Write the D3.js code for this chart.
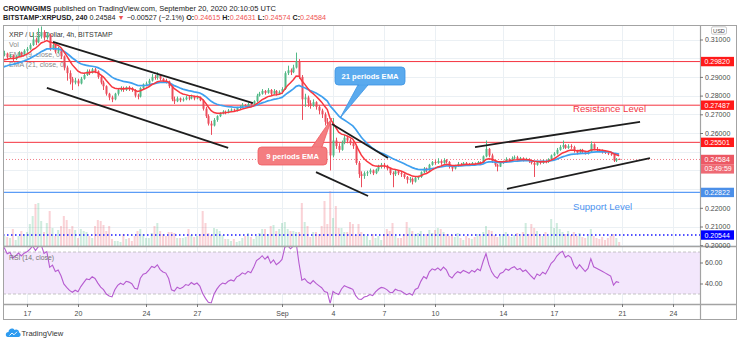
<!DOCTYPE html>
<html><head><meta charset="utf-8">
<script src="https://cdn.jsdelivr.net/npm/d3@7"></script>
<style>
body{margin:0;background:#fff}
svg{display:block}
text{font-family:"Liberation Sans",Arial,sans-serif}
</style>
</head><body>
<svg id="c" width="740" height="341"></svg>
<script>
// ---------------- DATA ----------------
const startTime = Date.UTC(2020, 7, 13, 0); // first 4h candle (Aug 13 & 14 are warm-up, off-screen)
const candleHours = 4;
const firstOpen = 0.2870;
const closes = [
0.2880,0.2900,0.2870,0.2890,0.2920,0.2910, // Aug 13
0.2930,0.2950,0.2940,0.2970,0.2990,0.3000, // Aug 14
0.2980,0.3010,0.3000,0.3020,0.3025,0.3005, // Aug 15
0.3015,0.2995,0.3010,0.3030,0.3020,0.3040, // Aug 16
0.3050,0.3070,0.3100,0.3085,0.3120,0.3140, // Aug 17
0.3110,0.3125,0.3055,0.3070,0.3035,0.3045, // Aug 18
0.3010,0.2950,0.2920,0.2890,0.2870,0.2880, // Aug 19
0.2865,0.2890,0.2910,0.2930,0.2925,0.2940, // Aug 20
0.2930,0.2900,0.2870,0.2850,0.2810,0.2790, // Aug 21
0.2780,0.2810,0.2830,0.2840,0.2830,0.2845, // Aug 22
0.2840,0.2830,0.2800,0.2795,0.2840,0.2860, // Aug 23
0.2865,0.2880,0.2900,0.2895,0.2910,0.2890, // Aug 24
0.2880,0.2875,0.2850,0.2780,0.2770,0.2785, // Aug 25
0.2775,0.2780,0.2790,0.2785,0.2795,0.2785, // Aug 26
0.2790,0.2775,0.2730,0.2690,0.2650,0.2640, // Aug 27
0.2670,0.2690,0.2705,0.2715,0.2710,0.2720, // Aug 28
0.2725,0.2720,0.2735,0.2740,0.2750,0.2745, // Aug 29
0.2755,0.2750,0.2770,0.2800,0.2810,0.2825, // Aug 30
0.2815,0.2830,0.2810,0.2825,0.2810,0.2820, // Aug 31
0.2835,0.2920,0.2935,0.2925,0.2950,0.2985, // Sep 1
0.2900,0.2780,0.2790,0.2760,0.2745,0.2765, // Sep 2
0.2740,0.2720,0.2700,0.2660,0.2650,0.2480, // Sep 3
0.2560,0.2530,0.2510,0.2550,0.2575,0.2560, // Sep 4
0.2545,0.2530,0.2440,0.2380,0.2370,0.2385, // Sep 5
0.2390,0.2400,0.2385,0.2405,0.2420,0.2430, // Sep 6
0.2425,0.2410,0.2385,0.2380,0.2395,0.2385, // Sep 7
0.2380,0.2365,0.2350,0.2355,0.2340,0.2360, // Sep 8
0.2365,0.2390,0.2410,0.2400,0.2430,0.2445, // Sep 9
0.2440,0.2450,0.2440,0.2455,0.2445,0.2420, // Sep 10
0.2410,0.2425,0.2435,0.2430,0.2440,0.2435, // Sep 11
0.2430,0.2440,0.2435,0.2445,0.2440,0.2475, // Sep 12
0.2515,0.2480,0.2450,0.2430,0.2420,0.2440, // Sep 13
0.2445,0.2460,0.2455,0.2465,0.2470,0.2460, // Sep 14
0.2465,0.2455,0.2460,0.2450,0.2440,0.2430, // Sep 15
0.2445,0.2440,0.2450,0.2445,0.2460,0.2480, // Sep 16
0.2490,0.2510,0.2525,0.2535,0.2520,0.2530, // Sep 17
0.2525,0.2505,0.2495,0.2510,0.2500,0.2490, // Sep 18
0.2500,0.2540,0.2515,0.2510,0.2505,0.2500, // Sep 19
0.2495,0.2490,0.2485,0.2452,0.24615,0.24584 // Sep 20
];
const highs = [
0.2895,0.2910,0.2905,0.2900,0.2930,0.2925,
0.2940,0.2960,0.2955,0.2975,0.2995,0.3010,
0.3005,0.3015,0.3015,0.3030,0.3040,0.3030,
0.3022,0.3020,0.3015,0.3038,0.3035,0.3048,
0.3060,0.3080,0.3135,0.3110,0.3160,0.3170,
0.3150,0.3140,0.3130,0.3085,0.3075,0.3060,
0.3050,0.3015,0.2960,0.2935,0.2900,0.2895,
0.2890,0.2900,0.2920,0.2940,0.2940,0.2948,
0.2948,0.2935,0.2905,0.2880,0.2855,0.2815,
0.2800,0.2815,0.2840,0.2850,0.2848,0.2850,
0.2852,0.2845,0.2835,0.2810,0.2845,0.2865,
0.2875,0.2890,0.2915,0.2910,0.2925,0.2915,
0.2895,0.2890,0.2880,0.2855,0.2795,0.2795,
0.2790,0.2790,0.2800,0.2800,0.2805,0.2800,
0.2800,0.2795,0.2780,0.2740,0.2700,0.2665,
0.2680,0.2695,0.2710,0.2722,0.2720,0.2728,
0.2732,0.2730,0.2740,0.2748,0.2760,0.2755,
0.2762,0.2762,0.2775,0.2810,0.2820,0.2835,
0.2830,0.2840,0.2835,0.2835,0.2830,0.2828,
0.2845,0.2930,0.2960,0.2945,0.2965,0.3030,
0.2995,0.2910,0.2810,0.2800,0.2775,0.2780,
0.2770,0.2750,0.2730,0.2710,0.2680,0.2660,
0.2680,0.2575,0.2545,0.2560,0.2590,0.2580,
0.2570,0.2555,0.2535,0.2450,0.2395,0.2395,
0.2398,0.2410,0.2405,0.2410,0.2430,0.2440,
0.2440,0.2430,0.2415,0.2395,0.2405,0.2400,
0.2392,0.2385,0.2370,0.2365,0.2362,0.2368,
0.2370,0.2395,0.2418,0.2415,0.2435,0.2450,
0.2455,0.2465,0.2455,0.2465,0.2460,0.2450,
0.2425,0.2430,0.2445,0.2440,0.2445,0.2445,
0.2440,0.2445,0.2442,0.2450,0.2448,0.2480,
0.2560,0.2520,0.2490,0.2455,0.2435,0.2448,
0.2452,0.2470,0.2465,0.2475,0.2480,0.2478,
0.2472,0.2470,0.2468,0.2465,0.2455,0.2445,
0.2450,0.2452,0.2458,0.2455,0.2465,0.2485,
0.2498,0.2520,0.2535,0.2560,0.2540,0.2540,
0.2540,0.2532,0.2510,0.2515,0.2515,0.2505,
0.2505,0.2555,0.2545,0.2525,0.2515,0.2512,
0.2508,0.2500,0.2495,0.2490,0.2466,0.24631
];
const lows = [
0.2860,0.2875,0.2865,0.2865,0.2885,0.2900,
0.2905,0.2925,0.2935,0.2935,0.2965,0.2985,
0.2975,0.2975,0.2995,0.2995,0.3010,0.2998,
0.2998,0.2985,0.2990,0.3008,0.3012,0.3015,
0.3030,0.3045,0.3065,0.3070,0.3080,0.3105,
0.3095,0.3100,0.3040,0.3045,0.3025,0.3025,
0.2995,0.2935,0.2880,0.2860,0.2830,0.2860,
0.2850,0.2860,0.2885,0.2905,0.2910,0.2918,
0.2920,0.2890,0.2860,0.2830,0.2800,0.2775,
0.2765,0.2775,0.2800,0.2822,0.2820,0.2825,
0.2825,0.2820,0.2790,0.2780,0.2790,0.2835,
0.2850,0.2860,0.2875,0.2885,0.2885,0.2880,
0.2870,0.2865,0.2840,0.2770,0.2755,0.2765,
0.2765,0.2768,0.2775,0.2775,0.2780,0.2775,
0.2780,0.2770,0.2720,0.2680,0.2640,0.2590,
0.2635,0.2660,0.2685,0.2700,0.2700,0.2705,
0.2712,0.2712,0.2715,0.2728,0.2735,0.2738,
0.2740,0.2742,0.2745,0.2765,0.2795,0.2805,
0.2805,0.2810,0.2800,0.2805,0.2800,0.2805,
0.2810,0.2830,0.2910,0.2910,0.2920,0.2945,
0.2890,0.2670,0.2740,0.2740,0.2730,0.2740,
0.2725,0.2700,0.2680,0.2640,0.2630,0.2400,
0.2470,0.2515,0.2495,0.2505,0.2540,0.2545,
0.2535,0.2515,0.2430,0.2360,0.2310,0.2355,
0.2370,0.2380,0.2375,0.2380,0.2395,0.2410,
0.2410,0.2400,0.2375,0.2310,0.2370,0.2375,
0.2365,0.2355,0.2330,0.2335,0.2325,0.2335,
0.2350,0.2360,0.2385,0.2390,0.2395,0.2425,
0.2430,0.2435,0.2430,0.2435,0.2438,0.2410,
0.2395,0.2405,0.2420,0.2425,0.2428,0.2428,
0.2425,0.2428,0.2430,0.2432,0.2435,0.2438,
0.2470,0.2470,0.2440,0.2420,0.2395,0.2418,
0.2435,0.2440,0.2445,0.2450,0.2458,0.2455,
0.2455,0.2448,0.2450,0.2440,0.2432,0.2365,
0.2425,0.2432,0.2435,0.2438,0.2440,0.2455,
0.2475,0.2485,0.2505,0.2515,0.2515,0.2515,
0.2515,0.2495,0.2485,0.2490,0.2492,0.2485,
0.2485,0.2495,0.2508,0.2500,0.2498,0.2490,
0.2488,0.2482,0.2478,0.2445,0.2445,0.24574
];
// volume, millions XRP
const volumes = [
12,10,9,11,14,10, 12,9,8,13,15,11, 9,10,8,12,10,9,
8,17,6,10,15,12, 14,22,30,42,43,25, 14,23,35,18,10,16,
20,30,26,17,20,16, 8,17,15,14,10,8, 20,26,25,21,15,20,
7,5,5,4,12,7, 8,5,10,15,17,12, 8,8,13,20,23,15,
12,10,14,14,13,8, 8,8,9,17,11,9, 10,12,35,23,13,11,
18,17,15,11,7,7, 5,7,4,5,8,10, 13,9,7,10,13,17,
17,12,20,21,15,17, 23,24,17,15,15,14, 14,43,24,20,9,14,
14,12,20,45,22,55, 28,40,18,18,14,14, 24,22,11,22,14,12,
10,6,12,8,10,6, 12,17,15,23,10,8, 8,12,24,18,15,12,
13,15,10,12,16,13, 16,18,17,14,12,10, 11,9,13,8,6,10,
8,7,9,12,10,14, 20,16,15,11,9,10, 12,14,10,9,11,13,
10,14,23,12,22,18, 15,12,10,14,10,27, 18,23,17,14,12,15,
11,14,10,13,9,8, 10,17,10,8,7,9, 6,8,10,12,8,4
];
const timeTickDates = ["2020-08-17","2020-08-20","2020-08-24","2020-08-27","2020-09-01","2020-09-04","2020-09-07","2020-09-10","2020-09-14","2020-09-17","2020-09-21","2020-09-24"];
const timeTickLabels = ["17","20","24","27","Sep","4","7","10","14","17","21","24"];
const priceTicks = [0.20,0.21,0.22,0.23,0.24,0.25,0.26,0.27,0.28,0.29,0.30,0.31];
const rsiTicks = [40,60];
const resistancePrices = [0.29820, 0.27487, 0.25501];
const supportPrice = 0.22822;
const lowSupportPrice = 0.20544;
const lastPrice = 0.24584;
const countdown = "03:49:59";
// trend lines [start date, start price, end date, end price]
const trendLines = [
  ["2020-08-18T12:40Z",0.3087,"2020-08-30T07:00Z",0.2760],
  ["2020-08-18T04:00Z",0.2841,"2020-08-28T20:00Z",0.2520],
  ["2020-09-03T22:30Z",0.2648,"2020-09-07T05:40Z",0.2466],
  ["2020-09-03T00:00Z",0.2391,"2020-09-06T01:30Z",0.2263],
  ["2020-09-12T08:30Z",0.2525,"2020-09-22T01:30Z",0.2659],
  ["2020-09-14T05:40Z",0.2301,"2020-09-22T15:30Z",0.2466]
];
// callout tips [date, price]
const ema21Tip = ["2020-09-04T10:00Z",0.2680];
const ema9Tip  = ["2020-09-03T22:30Z",0.2680];

// ---------------- DERIVED ----------------
const H4 = candleHours*3600e3;
const bars = closes.map((c,i)=>({t:new Date(startTime+i*H4), o:i?closes[i-1]:firstOpen, h:highs[i], l:lows[i], c, v:volumes[i]}));
function ema(arr,n){const k=2/(n+1);let e=arr[0];return arr.map((v,i)=>i===0?(e=v):(e=v*k+e*(1-k)));}
function rsi(arr,n){let ag=0,al=0;const out=arr.map(()=>null);
  for(let i=1;i<arr.length;i++){const d=arr[i]-arr[i-1],g=Math.max(d,0),l=Math.max(-d,0);
    if(i<=n){ag+=g/n;al+=l/n;if(i===n)out[i]=100-100/(1+ag/al);}
    else{ag=(ag*(n-1)+g)/n;al=(al*(n-1)+l)/n;out[i]=100-100/(1+ag/al);}}
  return out;}
const ema9=ema(closes,9), ema21=ema(closes,21), rsi14=rsi(closes,14);

// ---------------- LAYOUT ----------------
const L=3,R=700,T=25,MB=246,RB=304,AB=319,RE=737;
const svg=d3.select("#c");
const x=d3.scaleUtc().domain([new Date(Date.UTC(2020,7,17)),new Date(Date.UTC(2020,8,21))]).range([27,622]);
const y=d3.scaleLinear().domain([0.26,0.31]).range([133,39.5]);
const yR=d3.scaleLinear().domain([30,70]).range([294,252]);
const yV=d3.scaleLinear().domain([0,221]).range([MB,T]);
const UP="#53b987",DN="#eb4d5c";

const defs=svg.append("defs");
defs.append("clipPath").attr("id","cm").append("rect").attr("x",L+0.5).attr("y",T+0.5).attr("width",R-L-0.5).attr("height",MB-T-0.5);
defs.append("clipPath").attr("id","cr").append("rect").attr("x",L+0.5).attr("y",MB+0.5).attr("width",R-L-0.5).attr("height",RB-MB-1);

// header
const h1=svg.append("text").attr("x",3).attr("y",10.5).attr("font-size",7.5).attr("fill","#222");
h1.append("tspan").attr("font-weight","bold").text("CROWNGIMS");
h1.append("tspan").text(" published on TradingView.com, September 20, 2020 20:10:05 UTC");
const h2=svg.append("text").attr("x",3).attr("y",20).attr("font-size",7.2).attr("fill","#222");
const red="#ef5350";
[["BITSTAMP:XRPUSD, 240","#222","bold"],[" 0.24584 ","#222",null],["▼",red,null],[" −0.00527 (−2.1%) ","#222",null],
 ["O:","#222","bold"],["0.24615",red,null],[" H:","#222","bold"],["0.24631",red,null],[" L:","#222","bold"],["0.24574",red,null],[" C:","#222","bold"],["0.24584",red,null]]
 .forEach(([s,c,w])=>{const t=h2.append("tspan").attr("fill",c).text(s);if(w)t.attr("font-weight",w);});

// grid
const tickDates=timeTickDates.map(d=>new Date(d+"T00:00Z"));
const grid=svg.append("g").attr("stroke","#ebf0f4").attr("stroke-width",1);
priceTicks.forEach(p=>grid.append("line").attr("x1",L).attr("x2",R).attr("y1",Math.round(y(p))+0.5).attr("y2",Math.round(y(p))+0.5));
rsiTicks.forEach(p=>grid.append("line").attr("x1",L).attr("x2",R).attr("y1",Math.round(yR(p))+0.5).attr("y2",Math.round(yR(p))+0.5));
tickDates.forEach(d=>{const xx=Math.round(x(d))+0.5;if(xx<R){grid.append("line").attr("x1",xx).attr("x2",xx).attr("y1",T).attr("y2",RB);}});

// legend
const lg=svg.append("g").attr("font-size",7);
lg.append("text").attr("x",9).attr("y",37).attr("fill","#333").text("XRP / U.S. Dollar, 4h, BITSTAMP");
lg.append("text").attr("x",9).attr("y",47).attr("fill","#888").text("Vol");
lg.append("text").attr("x",9).attr("y",57).attr("fill","#888").text("EMA (9, close, 0)");
lg.append("text").attr("x",9).attr("y",67).attr("fill","#888").text("EMA (21, close, 0)");

const gm=svg.append("g").attr("clip-path","url(#cm)");
// volume
gm.append("g").selectAll("rect").data(bars).join("rect")
 .attr("x",d=>x(d.t)-1).attr("width",2).attr("y",d=>yV(d.v)).attr("height",d=>MB-yV(d.v))
 .attr("fill",d=>d.c>=d.o?"rgba(83,185,135,0.28)":"rgba(235,77,92,0.25)");
// level lines
resistancePrices.forEach(p=>gm.append("line").attr("x1",L).attr("x2",R).attr("y1",y(p)).attr("y2",y(p)).attr("stroke","#f5333f").attr("stroke-width",1));
gm.append("line").attr("x1",L).attr("x2",R).attr("y1",y(supportPrice)).attr("y2",y(supportPrice)).attr("stroke","#5b9cf6").attr("stroke-width",1.2);
gm.append("line").attr("x1",L).attr("x2",R).attr("y1",y(lowSupportPrice)).attr("y2",y(lowSupportPrice)).attr("stroke","#1a1aff").attr("stroke-width",1.5).attr("stroke-dasharray","1.5,2.5");
gm.append("line").attr("x1",L).attr("x2",R).attr("y1",y(lastPrice)).attr("y2",y(lastPrice)).attr("stroke","#eb4d5c").attr("stroke-width",1).attr("stroke-dasharray","1,2").attr("opacity",0.7);
// candles
const cg=gm.append("g");
cg.selectAll("rect.w").data(bars).join("rect").attr("class","w")
 .attr("x",d=>Math.round(x(d.t))).attr("width",1).attr("y",d=>y(d.h)).attr("height",d=>y(d.l)-y(d.h))
 .attr("fill",d=>d.c>=d.o?UP:DN);
cg.selectAll("rect.b").data(bars).join("rect").attr("class","b")
 .attr("x",d=>Math.round(x(d.t))-0.5).attr("width",2).attr("y",d=>y(Math.max(d.o,d.c)))
 .attr("height",d=>Math.max(1,Math.abs(y(d.o)-y(d.c))))
 .attr("fill",d=>d.c>=d.o?UP:DN);
// EMAs
const ln=(arr)=>d3.line().x((d,i)=>x(bars[i].t)).y(d=>y(d))(arr);
gm.append("path").attr("d",ln(ema21)).attr("fill","none").attr("stroke","#3fa0ef").attr("stroke-width",1.7);
gm.append("path").attr("d",ln(ema9)).attr("fill","none").attr("stroke","#f8373f").attr("stroke-width",1.5);
// trend lines
trendLines.forEach(([d1,p1,d2,p2])=>gm.append("line")
 .attr("x1",x(new Date(d1))).attr("y1",y(p1)).attr("x2",x(new Date(d2))).attr("y2",y(p2))
 .attr("stroke","#1e1e1e").attr("stroke-width",1.8));

// callouts
function callout(tip,bx,by,bw,bh,b1,b2,label,fill,stroke){
  const tx=x(new Date(tip[0])),ty=y(tip[1]);
  const g=gm.append("g");
  const baseY = ty<by? by : by+bh;
  g.append("path").attr("d",`M${b1},${baseY}L${tx},${ty}L${b2},${baseY}Z`).attr("fill",fill).attr("stroke",stroke).attr("stroke-width",0.8);
  g.append("rect").attr("x",bx).attr("y",by).attr("width",bw).attr("height",bh).attr("rx",3.5).attr("fill",fill).attr("stroke",stroke).attr("stroke-width",0.8);
  g.append("path").attr("d",`M${b1+0.8},${baseY}L${b2-0.8},${baseY}`).attr("stroke",fill).attr("stroke-width",1.6);
  g.append("text").attr("x",bx+bw/2).attr("y",by+bh/2+2.6).attr("text-anchor","middle").attr("font-size",7.6).attr("font-weight","bold").attr("fill","#fff").text(label);
}
callout(ema21Tip,335,67,70,18,358,368,"21 periods EMA","#5aaaee","#3b93e3");
callout(ema9Tip,258,147,69,18,312,322,"9 periods EMA","#f47d80","#f05a60");

svg.append("text").attr("x",573).attr("y",112).attr("font-size",9.6).attr("fill","#f23645").text("Resistance  Level");
svg.append("text").attr("x",573).attr("y",210).attr("font-size",9.6).attr("fill","#4d94f0").text("Support Level");

// RSI pane
const gr=svg.append("g").attr("clip-path","url(#cr)");
gr.append("rect").attr("x",L).attr("width",R-L).attr("y",yR(70)).attr("height",yR(30)-yR(70)).attr("fill","#f3e7fc");
[70,30].forEach(v=>gr.append("line").attr("x1",L).attr("x2",R).attr("y1",yR(v)).attr("y2",yR(v)).attr("stroke","#b8b8b8").attr("stroke-dasharray","3,2").attr("stroke-width",0.8));
gr.append("path").attr("d",d3.line().defined(d=>d!=null).x((d,i)=>x(bars[i].t)).y(d=>yR(d))(rsi14)).attr("fill","none").attr("stroke","#b65bd0").attr("stroke-width",1.1);
svg.append("text").attr("x",9).attr("y",259.5).attr("font-size",6.8).attr("fill","#777").text("RSI (14, close)");

// frame and separators
const fr=svg.append("g").attr("stroke","#a3a3a3").attr("fill","none");
fr.append("rect").attr("x",L+0.5).attr("y",T+0.5).attr("width",RE-L-1).attr("height",AB-T);
fr.append("line").attr("x1",R+0.5).attr("x2",R+0.5).attr("y1",T).attr("y2",AB+0.5).attr("stroke-width",1.2);
fr.append("line").attr("x1",L).attr("x2",RE).attr("y1",MB+0.5).attr("y2",MB+0.5).attr("stroke-width",1.5);
fr.append("line").attr("x1",L).attr("x2",RE).attr("y1",RB+0.5).attr("y2",RB+0.5).attr("stroke-width",1.5);

// price label boxes (centres) — axis tick labels that would sit under a box are hidden, as in TradingView
const boxCentres=[...resistancePrices.map(p=>y(p)),y(lastPrice),y(lastPrice)+9.4,y(supportPrice),y(lowSupportPrice)];
const visibleTicks=priceTicks.filter(p=>y(p)>T+3&&y(p)<MB+2&&boxCentres.every(c=>Math.abs(c-y(p))>=8));
// price axis
const pa=svg.append("g").attr("transform",`translate(${R},0)`)
 .call(d3.axisRight(y).tickValues(visibleTicks).tickFormat(d3.format(".5f")).tickSize(3).tickPadding(2));
pa.select(".domain").remove();
pa.selectAll("text").attr("font-size",7).attr("fill","#4a4a4a").attr("font-family",'"Liberation Sans",Arial,sans-serif');
pa.selectAll("line").attr("stroke","#777");
// RSI axis
const ra=svg.append("g").attr("transform",`translate(${R},0)`)
 .call(d3.axisRight(yR).tickValues(rsiTicks).tickFormat(d3.format(".2f")).tickSize(3).tickPadding(2));
ra.select(".domain").remove();
ra.selectAll("text").attr("font-size",7).attr("fill","#4a4a4a").attr("font-family",'"Liberation Sans",Arial,sans-serif');
ra.selectAll("line").attr("stroke","#777");
// time axis
const ta=svg.append("g").attr("transform",`translate(0,${RB})`)
 .call(d3.axisBottom(x).tickValues(tickDates).tickFormat((d,i)=>timeTickLabels[i]).tickSize(3).tickPadding(4));
ta.select(".domain").remove();
ta.selectAll("text").attr("font-size",7).attr("fill","#4a4a4a").attr("font-family",'"Liberation Sans",Arial,sans-serif');
ta.selectAll("line").attr("stroke","#777");

function pbox(cy,bg,label){
  svg.append("rect").attr("x",R+1).attr("y",cy-4.7).attr("width",33).attr("height",9.4).attr("fill",bg);
  svg.append("text").attr("x",R+4.5).attr("y",cy+2.5).attr("font-size",7).attr("fill","#fff").text(label);
}
const fmt=d3.format(".5f");
resistancePrices.forEach(p=>pbox(y(p),"#ff1a1a",fmt(p)));
pbox(y(lastPrice),"#ec5864",fmt(lastPrice));
pbox(y(lastPrice)+9.4,"#ee6a74",countdown);
pbox(y(supportPrice),"#4b8fe8",fmt(supportPrice));
pbox(y(lowSupportPrice),"#0000ff",fmt(lowSupportPrice));
// USD badge
svg.append("rect").attr("x",711.5).attr("y",26.8).attr("width",15).attr("height",7.4).attr("rx",1.5).attr("fill","#fff").attr("stroke","#b0b0b0").attr("stroke-width",0.7);
svg.append("text").attr("x",719).attr("y",32.5).attr("text-anchor","middle").attr("font-size",5.6).attr("fill","#444").text("USD");

// TradingView logo
const lgG=svg.append("g");
lgG.append("path").attr("d","M8,337 C5,337 5,332 8.5,332 C8.5,328.5 13,327.5 14.5,330 C16,328.5 19.5,330 19,332.5 C21.5,333 21,337 18.5,337 Z").attr("fill","#2d9bf0");
lgG.append("path").attr("d","M9.5,335.5 L12,333 L14,334.8 L17,331.8").attr("fill","none").attr("stroke","#fff").attr("stroke-width",0.9);
svg.append("text").attr("x",21.5).attr("y",336).attr("font-size",7.6).attr("fill","#333").text("TradingView");
</script>
</body></html>
